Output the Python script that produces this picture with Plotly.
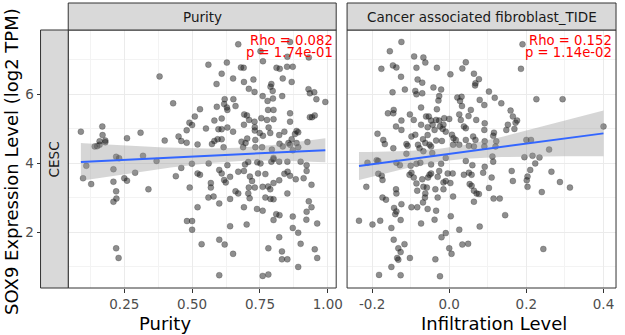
import numpy as np
import plotly.graph_objects as go

# ---------------- data ----------------
purity_x = [
    0.380, 0.430, 0.529, 0.510, 0.490, 0.500, 0.480, 0.090, 0.169, 0.170, 0.180, 0.180, 0.159,
    0.159, 0.141, 0.150, 0.260, 0.310, 0.399, 0.450, 0.460, 0.480, 0.520, 0.220, 0.231, 0.319,
    0.670, 0.752, 0.861, 0.851, 0.930, 0.560, 0.628, 0.680, 0.690, 0.761, 0.811, 0.823, 0.850,
    0.871, 0.609, 0.651, 0.691, 0.726, 0.590, 0.792, 0.789, 0.797, 0.730, 0.709, 0.834, 0.867,
    0.929, 0.934, 0.950, 0.958, 0.991, 0.760, 0.832, 0.798, 0.778, 0.620, 0.652, 0.618, 0.591,
    0.628, 0.660, 0.780, 0.800, 0.861, 0.630, 0.692, 0.702, 0.710, 0.730, 0.755, 0.776, 0.800,
    0.861, 0.934, 0.942, 0.952, 0.609, 0.582, 0.551, 0.597, 0.609, 0.630, 0.651, 0.691, 0.731,
    0.731, 0.782, 0.788, 0.821, 0.840, 0.867, 0.885, 0.891, 0.879, 0.761, 0.749, 0.703, 0.697,
    0.733, 0.582, 0.594, 0.609, 0.682, 0.822, 0.834, 0.855, 0.861, 0.885, 0.891, 0.925, 0.733,
    0.758, 0.688, 0.573, 0.616, 0.794, 0.871, 0.800,
    0.110, 0.098, 0.128, 0.210, 0.210, 0.220, 0.221, 0.210, 0.250, 0.260, 0.290, 0.339, 0.369,
    0.440, 0.460, 0.499, 0.520, 0.529, 0.491, 0.520, 0.481, 0.500, 0.500, 0.220, 0.229, 0.535,
    0.561, 0.630, 0.600, 0.609, 0.618, 0.624, 0.569, 0.569, 0.560, 0.579, 0.600, 0.640, 0.670,
    0.691, 0.707, 0.695, 0.740, 0.752, 0.713, 0.721, 0.743, 0.770, 0.731, 0.709, 0.660, 0.670,
    0.707, 0.712, 0.640, 0.691, 0.760, 0.780, 0.788, 0.800, 0.821, 0.770, 0.789, 0.800, 0.739,
    0.760, 0.792, 0.800, 0.821, 0.851, 0.840, 0.852, 0.861, 0.882, 0.900, 0.922, 0.922, 0.911,
    0.940, 0.851, 0.810, 0.822, 0.800, 0.871, 0.871, 0.891, 0.900, 0.930, 0.940, 0.922, 0.921,
    0.961, 0.952, 0.961, 0.891, 0.821, 0.831, 0.831, 0.851, 0.781, 0.701, 0.640, 0.600, 0.620,
    0.651, 0.600, 0.760, 0.781,
]
purity_y = [
    6.51, 5.73, 5.56, 5.35, 5.17, 5.10, 4.95, 4.91, 5.06, 4.81, 4.65, 4.60, 4.63,
    4.53, 4.48, 4.49, 4.72, 4.88, 4.65, 4.77, 4.64, 4.59, 4.54, 4.18, 4.14, 4.21,
    7.44, 7.24, 7.51, 7.08, 7.06, 6.85, 6.91, 6.77, 6.76, 6.95, 6.76, 6.73, 6.79,
    6.79, 6.59, 6.45, 6.35, 6.42, 6.29, 6.29, 6.21, 6.09, 6.06, 6.15, 6.45, 6.35,
    6.14, 6.02, 6.05, 5.85, 5.77, 5.94, 5.94, 5.87, 5.80, 5.85, 5.85, 5.71, 5.63,
    5.61, 5.65, 5.54, 5.54, 5.44, 5.54, 5.41, 5.38, 5.25, 5.20, 5.30, 5.25, 5.27,
    5.20, 5.33, 5.33, 5.38, 5.29, 5.23, 5.00, 4.98, 4.98, 5.03, 4.91, 5.11, 5.04,
    4.94, 5.03, 4.87, 4.81, 4.91, 4.69, 4.93, 4.89, 4.84, 4.79, 4.87, 4.71, 4.58,
    4.67, 4.64, 4.69, 4.69, 4.62, 4.56, 4.48, 4.58, 4.53, 4.58, 4.46, 4.61, 4.46,
    4.46, 4.46, 4.55, 4.46, 4.39, 4.37, 4.15,
    3.92, 3.56, 3.39, 3.82, 3.46, 3.18, 2.97, 2.88, 3.56, 3.49, 3.72, 3.24, 4.06,
    3.62, 3.86, 3.98, 3.70, 3.66, 3.29, 2.72, 2.32, 2.32, 2.07, 1.53, 1.25, 1.65,
    3.99, 3.94, 3.80, 3.70, 3.51, 3.44, 3.42, 3.29, 3.00, 3.03, 2.83, 3.60, 3.75,
    3.77, 4.03, 3.96, 4.02, 3.99, 3.61, 3.48, 3.70, 3.68, 3.29, 3.29, 3.18, 3.12,
    3.12, 2.98, 2.96, 2.72, 3.31, 3.32, 3.24, 3.42, 3.50, 3.00, 2.96, 2.95, 2.67,
    2.62, 4.04, 4.11, 4.04, 4.04, 3.69, 3.75, 3.63, 3.53, 4.04, 3.94, 3.77, 3.56,
    3.37, 3.12, 2.52, 2.49, 2.35, 2.45, 2.12, 1.98, 1.66, 2.89, 2.72, 2.59, 2.36,
    2.25, 1.50, 1.25, 0.99, 1.85, 1.44, 1.21, 1.21, 1.53, 2.22, 2.17, 1.78, 1.64,
    1.37, 0.75, 0.73, 0.77,
]

caf_x = [
    -0.124, -0.154, -0.091, -0.067, -0.062, -0.176, -0.146, -0.137, -0.085, -0.032, 0.043, 0.034,
    -0.125, -0.082, -0.070, 0.003, 0.064, 0.077, 0.068, 0.067, -0.115, -0.147, -0.088, -0.085,
    -0.070, -0.041, -0.021, -0.026, -0.028, 0.021, 0.032, 0.028, 0.033, 0.079, -0.073, -0.032,
    -0.144, -0.159, -0.145, -0.102, -0.060, -0.053, -0.047, -0.034, -0.026, -0.013, 0.000, 0.026,
    0.056, 0.050, 0.070, -0.124, -0.092, -0.138, -0.124, -0.073, -0.056, -0.043, -0.038, -0.024,
    -0.017, -0.015, 0.030, 0.038, 0.043, -0.186, -0.171, -0.167, -0.145, -0.111, -0.108, -0.098,
    -0.088, -0.081, -0.068, -0.062, -0.056, -0.051, -0.047, -0.034, -0.019, -0.009, 0.007, 0.011,
    0.017, 0.010, 0.026, 0.043, 0.062, 0.068, 0.051, 0.064, -0.077, -0.067, -0.044, -0.111,
    -0.188, -0.009,
    0.190, 0.186, 0.103, 0.118, 0.091, 0.135, 0.226, 0.294, 0.159, 0.165, 0.176, 0.172,
    0.092, 0.152, 0.169, 0.148, 0.091, 0.116, 0.114, 0.092, 0.122, 0.120, 0.091, 0.200,
    0.212, 0.400, 0.259, 0.195, 0.216, 0.234, 0.112,
    -0.212, -0.184, -0.137, -0.128, -0.184, -0.175, -0.173, -0.215, -0.100, -0.085, -0.075, -0.047,
    -0.021, -0.103, -0.092, -0.098, -0.085, -0.070, -0.055, -0.051, -0.047, -0.030, -0.026, -0.015,
    -0.015, -0.009, -0.004, 0.009, 0.003, 0.010, -0.067, -0.058, -0.036, -0.083, -0.062, -0.063,
    -0.068, -0.030, -0.138, -0.137, -0.173, -0.164, -0.124, -0.143, -0.137, -0.140, -0.098, -0.083,
    -0.056, -0.034, -0.126, -0.073, -0.038, 0.004, -0.234, -0.199, -0.179, -0.150, 0.026, 0.079,
    -0.009, -0.020, -0.144, -0.116, -0.132, -0.126, -0.102, -0.135, -0.132, -0.036, 0.000, 0.006,
    0.034, 0.049, -0.150, -0.182, -0.126, -0.024, 0.043, 0.060, 0.038, 0.051, 0.058, 0.053,
    0.058, 0.064, 0.071, 0.077, 0.064,
    0.114, 0.092, 0.088, 0.110, 0.103, 0.115, 0.131, 0.145, 0.162, 0.165, 0.210, 0.203,
    0.201, 0.203, 0.223, 0.265, 0.287, 0.313, 0.240, 0.244,
]
caf_y = [
    7.51, 7.24, 7.09, 7.06, 6.91, 6.73, 6.83, 6.77, 6.76, 6.76, 6.92, 6.74,
    6.50, 6.42, 6.33, 6.57, 6.59, 6.43, 6.31, 6.25, 6.13, 6.05, 6.09, 5.99,
    6.02, 6.19, 6.13, 5.94, 5.81, 5.90, 5.92, 5.80, 5.65, 5.83, 5.61, 5.56,
    5.54, 5.44, 5.44, 5.41, 5.35, 5.35, 5.23, 5.25, 5.23, 5.30, 5.28, 5.41,
    5.54, 5.36, 5.25, 5.23, 5.25, 5.06, 4.96, 5.11, 5.04, 5.11, 4.96, 5.06,
    4.99, 5.11, 5.25, 5.06, 5.01, 4.85, 4.67, 4.55, 4.43, 4.55, 4.50, 4.77,
    4.82, 4.53, 4.69, 4.58, 4.81, 4.53, 4.48, 4.65, 4.64, 4.91, 4.82, 4.72,
    4.67, 4.53, 4.53, 4.67, 4.77, 4.67, 4.50, 4.48, 4.43, 4.34, 4.29, 4.27,
    4.08, 4.15,
    7.44, 6.73, 6.07, 5.89, 5.68, 5.73, 5.85, 5.85, 5.52, 5.35, 5.23, 5.17,
    5.15, 5.11, 4.99, 4.96, 4.96, 4.88, 4.79, 4.63, 4.63, 4.48, 4.48, 4.67,
    4.67, 5.06, 4.39, 4.17, 4.21, 4.16, 4.19,
    4.01, 4.06, 4.01, 3.94, 3.69, 3.63, 3.51, 3.31, 3.92, 3.98, 4.01, 3.96,
    3.98, 3.66, 3.58, 3.72, 3.41, 3.53, 3.58, 3.66, 3.70, 3.60, 3.77, 3.44,
    3.24, 3.48, 3.70, 3.70, 3.42, 3.03, 3.31, 3.29, 3.24, 3.20, 3.12, 3.00,
    2.86, 3.00, 3.24, 3.12, 3.00, 2.94, 2.81, 2.70, 2.60, 2.52, 2.72, 2.72,
    2.67, 2.62, 2.35, 2.25, 2.36, 2.46, 2.33, 2.22, 2.33, 2.12, 2.07, 2.16,
    1.97, 1.85, 1.78, 1.65, 1.53, 1.42, 1.25, 1.25, 1.20, 1.21, 1.53, 1.37,
    1.64, 1.66, 0.99, 0.76, 0.75, 0.72, 4.06, 3.94, 3.66, 3.72, 3.66, 3.39,
    3.34, 3.20, 3.12, 3.10, 2.88,
    4.04, 3.89, 3.72, 3.58, 3.28, 2.97, 2.97, 2.49, 3.77, 3.48, 3.80, 3.61,
    3.50, 3.31, 3.99, 3.75, 3.45, 3.29, 3.16, 1.51,
]

strip_titles = ["Purity", "Cancer associated fibroblast_TIDE"]
x_titles = ["Purity", "Infiltration Level"]
rho_labels = ["Rho = 0.082", "Rho = 0.152"]
p_labels = ["p = 1.74e-01", "p = 1.14e-02"]
purity_ticks = [0.25, 0.50, 0.75, 1.00]
purity_ticktext = ["0.25", "0.50", "0.75", "1.00"]
caf_ticks = [-0.2, 0.0, 0.2, 0.4]
caf_ticktext = ["-0.2", "0.0", "0.2", "0.4"]
y_ticks = [2, 4, 6]
cancer_label = "CESC"
y_title = "SOX9 Expression Level (log2 TPM)"

# ---------------- helpers ----------------
W, H = 625, 335
FONT = "DejaVu Sans"


def fx(p):
    return p / W


def fy(p):
    return 1 - p / H


def lm_fit(x, y):
    x = np.asarray(x, float)
    y = np.asarray(y, float)
    n = len(x)
    b, a = np.polyfit(x, y, 1)
    xs = np.linspace(x.min(), x.max(), 80)
    yh = a + b * xs
    s = np.sqrt(np.sum((y - (a + b * x)) ** 2) / (n - 2))
    sxx = np.sum((x - x.mean()) ** 2)
    se = s * np.sqrt(1.0 / n + (xs - x.mean()) ** 2 / sxx)
    t = 1.969
    return xs, yh, yh - t * se, yh + t * se


fig = go.Figure()

panels = [
    (purity_x, purity_y, "x", "y"),
    (caf_x, caf_y, "x2", "y2"),
]
for xv, yv, xa, ya in panels:
    fig.add_trace(go.Scatter(
        x=xv, y=yv, mode="markers", xaxis=xa, yaxis=ya,
        marker=dict(size=6, color="rgba(30,30,30,0.5)",
                    line=dict(width=0.6, color="rgba(20,20,20,0.35)")),
        hoverinfo="skip", showlegend=False))
    xs, yh, lo, hi = lm_fit(xv, yv)
    fig.add_trace(go.Scatter(
        x=list(xs) + list(xs[::-1]), y=list(lo) + list(hi[::-1]),
        fill="toself", fillcolor="rgba(153,153,153,0.4)", mode="lines",
        line=dict(width=0), xaxis=xa, yaxis=ya, hoverinfo="skip", showlegend=False))
    fig.add_trace(go.Scatter(
        x=xs, y=yh, mode="lines", line=dict(color="#3366FF", width=2),
        xaxis=xa, yaxis=ya, hoverinfo="skip", showlegend=False))

# panel geometry (pixels)
L1, R1 = 69, 340
L2, R2 = 351, 623
TOP, BOT = 30, 288
STRIP_TOP = 3
CESC_L = 41

yrange = [0.38, 7.855]
grid = dict(showgrid=True, gridcolor="#EBEBEB", gridwidth=1, zeroline=False, showline=False)
tickfont = dict(family=FONT, size=13.5, color="#4D4D4D")

fig.update_layout(
    width=W, height=H,
    margin=dict(l=0, r=0, t=0, b=0),
    paper_bgcolor="white", plot_bgcolor="white",
    font=dict(family=FONT),
    xaxis=dict(domain=[fx(L1), fx(R1)], range=[0.0434, 1.031], anchor="y",
               tickmode="array", tickvals=purity_ticks, ticktext=purity_ticktext,
               ticks="outside", ticklen=4, tickcolor="#333333", tickfont=tickfont,
               minor=dict(tickvals=[0.125, 0.375, 0.625, 0.875], showgrid=True,
                          gridcolor="#F3F3F3", gridwidth=0.6),
               **grid),
    yaxis=dict(domain=[fy(BOT), fy(TOP)], range=yrange, anchor="free", position=fx(CESC_L),
               tickmode="array", tickvals=y_ticks,
               ticks="outside", ticklen=4, tickcolor="#333333", tickfont=tickfont,
               minor=dict(tickvals=[1, 3, 5, 7], showgrid=True,
                          gridcolor="#F3F3F3", gridwidth=0.6),
               **grid),
    xaxis2=dict(domain=[fx(L2), fx(R2)], range=[-0.2649, 0.4325], anchor="y2",
                tickmode="array", tickvals=caf_ticks, ticktext=caf_ticktext,
                ticks="outside", ticklen=4, tickcolor="#333333", tickfont=tickfont,
                minor=dict(tickvals=[-0.1, 0.1, 0.3], showgrid=True,
                           gridcolor="#F3F3F3", gridwidth=0.6),
                **grid),
    yaxis2=dict(domain=[fy(BOT), fy(TOP)], range=yrange, anchor="x2",
                tickmode="array", tickvals=y_ticks, showticklabels=False, ticks="",
                minor=dict(tickvals=[1, 3, 5, 7], showgrid=True,
                           gridcolor="#F3F3F3", gridwidth=0.6),
                **grid),
)

shapes = []
border = dict(color="#333333", width=1)
for l, r in [(L1, R1), (L2, R2)]:
    # panel border
    shapes.append(dict(type="rect", xref="paper", yref="paper",
                       x0=fx(l), x1=fx(r), y0=fy(BOT), y1=fy(TOP), line=border))
    # top strip
    shapes.append(dict(type="rect", xref="paper", yref="paper",
                       x0=fx(l), x1=fx(r), y0=fy(TOP), y1=fy(STRIP_TOP),
                       fillcolor="#D9D9D9", line=border))
# left (row) strip
shapes.append(dict(type="rect", xref="paper", yref="paper",
                   x0=fx(CESC_L), x1=fx(L1), y0=fy(BOT), y1=fy(TOP),
                   fillcolor="#D9D9D9", line=border))
fig.update_layout(shapes=shapes)

ann = []
strip_font = dict(family=FONT, size=13.5, color="#1A1A1A")
for (l, r), title in zip([(L1, R1), (L2, R2)], strip_titles):
    ann.append(dict(text=title, x=fx((l + r) / 2), y=fy((TOP + STRIP_TOP) / 2),
                    xref="paper", yref="paper", showarrow=False, font=strip_font,
                    xanchor="center", yanchor="middle"))
ann.append(dict(text=cancer_label, x=fx((CESC_L + L1) / 2), y=fy((TOP + BOT) / 2),
                xref="paper", yref="paper", showarrow=False, font=strip_font,
                textangle=-90, xanchor="center", yanchor="middle"))
red = dict(family=FONT, size=13.2, color="#FF0000")
for r, rho, pv in zip([338, 620], rho_labels, p_labels):
    ann.append(dict(text=rho, x=fx(r), y=fy(40), xref="paper", yref="paper",
                    showarrow=False, font=red, xanchor="right", yanchor="middle",
                    borderpad=0))
    ann.append(dict(text=pv, x=fx(r), y=fy(53), xref="paper", yref="paper",
                    showarrow=False, font=red, xanchor="right", yanchor="middle",
                    borderpad=0))
title_font = dict(family=FONT, size=18, color="#000000")
for cx, t in zip([167, 500], x_titles):
    ann.append(dict(text=t, x=fx(cx), y=fy(323), xref="paper", yref="paper",
                    showarrow=False, font=title_font, xanchor="center", yanchor="middle"))
ann.append(dict(text=y_title, x=fx(11), y=fy(161), xref="paper", yref="paper",
                showarrow=False, font=title_font, textangle=-90,
                xanchor="center", yanchor="middle"))
fig.update_layout(annotations=ann)

fig.write_html("out.html", config={"displayModeBar": False},
               post_script="document.body.style.margin='0px';document.body.style.overflow='hidden';")
